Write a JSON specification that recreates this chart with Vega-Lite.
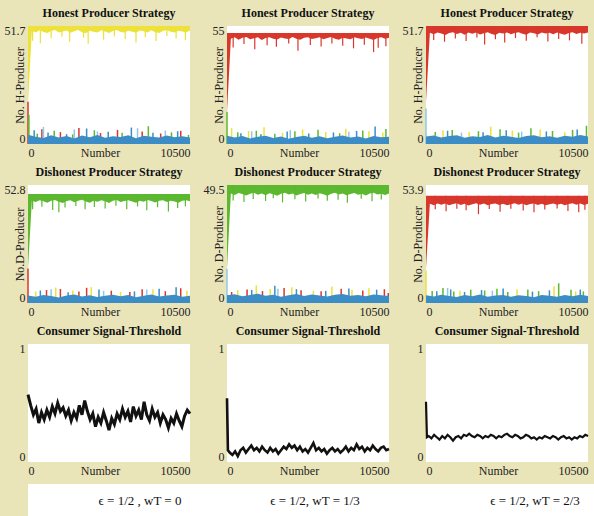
{
"$schema": "https://vega.github.io/schema/vega-lite/v6.json",
"background": "#EAE5B9",
"padding": {"left": 4, "top": 7, "right": 0, "bottom": 0},
"config": {
  "font": "Liberation Serif",
  "view": {"stroke": null, "fill": "white"},
  "title": {"font": "Liberation Serif", "fontSize": 12, "fontWeight": "bold", "color": "#111", "offset": 4, "anchor": "middle"},
  "axis": {"grid": false, "ticks": false, "domain": false, "labelFont": "Liberation Serif", "labelFontSize": 12, "labelColor": "#222", "titleFont": "Liberation Serif", "titleFontSize": 12, "titleFontWeight": "normal", "titleColor": "#222", "labelPadding": 3, "labelExpr": "'' + datum.value"},
  "axisX": {"labelFlush": true, "titleY": 3, "titleBaseline": "top", "titleX": 72},
  "axisY": {"labelFlush": true, "labelFlushOffset": 1, "titleX": -2, "titleBaseline": "bottom"}
},
"datasets": {
"p1t": [{"n":0,"v":18},{"n":250,"v":49.6},{"n":500,"v":48.9},{"n":750,"v":49.8},{"n":1000,"v":49.1},{"n":1250,"v":48.6},{"n":1500,"v":49.5},{"n":1750,"v":49.9},{"n":2000,"v":48.8},{"n":2250,"v":49.3},{"n":2500,"v":49.7},{"n":2750,"v":48.7},{"n":3000,"v":49.4},{"n":3250,"v":49.9},{"n":3500,"v":49.0},{"n":3750,"v":48.5},{"n":4000,"v":49.6},{"n":4250,"v":49.2},{"n":4500,"v":48.9},{"n":4750,"v":49.8},{"n":5000,"v":49.3},{"n":5250,"v":48.6},{"n":5500,"v":49.5},{"n":5750,"v":49.9},{"n":6000,"v":49.1},{"n":6250,"v":48.8},{"n":6500,"v":49.6},{"n":6750,"v":49.2},{"n":7000,"v":48.7},{"n":7250,"v":49.7},{"n":7500,"v":49.4},{"n":7750,"v":48.9},{"n":8000,"v":49.8},{"n":8250,"v":49.0},{"n":8500,"v":48.6},{"n":8750,"v":49.5},{"n":9000,"v":49.9},{"n":9250,"v":49.2},{"n":9500,"v":48.8},{"n":9750,"v":49.6},{"n":10000,"v":49.3},{"n":10250,"v":48.9},{"n":10500,"v":49.7}],
"p1ts": [{"n":300,"v":45.2},{"n":800,"v":44.1},{"n":1500,"v":46.3},{"n":2200,"v":47.0},{"n":2700,"v":44.8},{"n":3600,"v":46.5},{"n":3900,"v":43.9},{"n":4900,"v":45.7},{"n":5600,"v":47.2},{"n":6300,"v":46.0},{"n":7000,"v":44.5},{"n":7600,"v":46.8},{"n":8300,"v":45.1},{"n":9000,"v":47.3},{"n":9600,"v":46.2},{"n":10200,"v":45.5}],
"p1b": [{"n":0,"v":4},{"n":500,"v":3.2},{"n":1000,"v":2.6},{"n":1500,"v":3.8},{"n":2000,"v":2.9},{"n":2500,"v":3.5},{"n":3000,"v":2.4},{"n":3500,"v":3.7},{"n":4000,"v":3.0},{"n":4500,"v":3.9},{"n":5000,"v":2.7},{"n":5500,"v":3.4},{"n":6000,"v":3.1},{"n":6500,"v":3.8},{"n":7000,"v":2.5},{"n":7500,"v":3.6},{"n":8000,"v":3.2},{"n":8500,"v":2.8},{"n":9000,"v":3.7},{"n":9500,"v":3.0},{"n":10000,"v":3.4},{"n":10500,"v":2.8}],
"p1bs": [{"n":0,"v":18.5,"s":"r"},{"n":900,"v":6.5,"s":"r"},{"n":2100,"v":5.2,"s":"r"},{"n":3300,"v":7.0,"s":"r"},{"n":4700,"v":4.8,"s":"r"},{"n":5800,"v":6.2,"s":"r"},{"n":7400,"v":5.5,"s":"r"},{"n":8600,"v":4.6,"s":"r"},{"n":9900,"v":5.8,"s":"r"},
  {"n":60,"v":12.8,"s":"g"},{"n":600,"v":4.5,"s":"g"},{"n":1700,"v":5.8,"s":"g"},{"n":2900,"v":4.2,"s":"g"},{"n":4300,"v":6.0,"s":"g"},{"n":6100,"v":4.9,"s":"g"},{"n":7800,"v":7.8,"s":"g"},{"n":9300,"v":5.1,"s":"g"},{"n":10400,"v":4.0,"s":"g"},
  {"n":400,"v":6.0,"s":"b"},{"n":1300,"v":5.0,"s":"b"},{"n":2500,"v":4.3,"s":"b"},{"n":3800,"v":6.8,"s":"b"},{"n":5200,"v":5.4,"s":"b"},{"n":6700,"v":7.2,"s":"b"},{"n":8100,"v":4.9,"s":"b"},{"n":9700,"v":5.6,"s":"b"},
  {"n":1000,"v":7.5,"s":"l"},{"n":3000,"v":6.4,"s":"l"},{"n":4500,"v":5.5,"s":"l"},{"n":7100,"v":6.9,"s":"l"},{"n":8900,"v":5.9,"s":"l"}],
"p2t": [{"n":0,"v":15},{"n":250,"v":49.0},{"n":500,"v":49.8},{"n":750,"v":48.6},{"n":1000,"v":49.5},{"n":1250,"v":49.9},{"n":1500,"v":48.8},{"n":1750,"v":49.3},{"n":2000,"v":49.7},{"n":2250,"v":48.5},{"n":2500,"v":49.4},{"n":2750,"v":49.8},{"n":3000,"v":49.0},{"n":3250,"v":48.7},{"n":3500,"v":49.6},{"n":3750,"v":49.2},{"n":4000,"v":48.9},{"n":4250,"v":49.9},{"n":4500,"v":49.1},{"n":4750,"v":48.6},{"n":5000,"v":49.5},{"n":5250,"v":49.8},{"n":5500,"v":48.9},{"n":5750,"v":49.3},{"n":6000,"v":49.7},{"n":6250,"v":48.8},{"n":6500,"v":49.4},{"n":6750,"v":49.9},{"n":7000,"v":49.0},{"n":7250,"v":48.6},{"n":7500,"v":49.5},{"n":7750,"v":49.2},{"n":8000,"v":48.8},{"n":8250,"v":49.7},{"n":8500,"v":49.3},{"n":8750,"v":48.9},{"n":9000,"v":49.6},{"n":9250,"v":49.0},{"n":9500,"v":48.5},{"n":9750,"v":49.4},{"n":10000,"v":49.8},{"n":10250,"v":49.1},{"n":10500,"v":49.5}],
"p2ts": [{"n":400,"v":45.0},{"n":1100,"v":46.6},{"n":1800,"v":44.2},{"n":2600,"v":46.0},{"n":3200,"v":45.3},{"n":4000,"v":46.8},{"n":4600,"v":43.5},{"n":5400,"v":46.2},{"n":6100,"v":45.4},{"n":6800,"v":46.9},{"n":7500,"v":45.8},{"n":8200,"v":44.6},{"n":8900,"v":46.3},{"n":9500,"v":42.8},{"n":9800,"v":44.9},{"n":10300,"v":45.6}],
"p2b": [{"n":0,"v":3.8},{"n":500,"v":3.0},{"n":1000,"v":3.7},{"n":1500,"v":2.6},{"n":2000,"v":3.4},{"n":2500,"v":3.9},{"n":3000,"v":2.8},{"n":3500,"v":3.5},{"n":4000,"v":2.5},{"n":4500,"v":3.3},{"n":5000,"v":3.8},{"n":5500,"v":2.9},{"n":6000,"v":3.6},{"n":6500,"v":2.7},{"n":7000,"v":3.4},{"n":7500,"v":4.0},{"n":8000,"v":3.0},{"n":8500,"v":3.5},{"n":9000,"v":2.6},{"n":9500,"v":3.7},{"n":10000,"v":3.1},{"n":10500,"v":3.4}],
"p2bs": [{"n":0,"v":15,"s":"g"},{"n":700,"v":5.5,"s":"g"},{"n":1900,"v":6.2,"s":"g"},{"n":3100,"v":4.8,"s":"g"},{"n":4400,"v":5.9,"s":"g"},{"n":5900,"v":6.6,"s":"g"},{"n":7300,"v":5.0,"s":"g"},{"n":8800,"v":6.3,"s":"g"},{"n":10300,"v":7.0,"s":"g"},
  {"n":300,"v":7.4,"s":"y"},{"n":1400,"v":6.1,"s":"y"},{"n":2400,"v":7.8,"s":"y"},{"n":3600,"v":5.2,"s":"y"},{"n":4900,"v":6.8,"s":"y"},{"n":6400,"v":5.6,"s":"y"},{"n":7700,"v":7.1,"s":"y"},{"n":9200,"v":6.0,"s":"y"},{"n":10100,"v":5.4,"s":"y"},
  {"n":900,"v":5.0,"s":"b"},{"n":2200,"v":4.6,"s":"b"},{"n":3900,"v":5.8,"s":"b"},{"n":5300,"v":4.9,"s":"b"},{"n":6900,"v":5.4,"s":"b"},{"n":8400,"v":6.1,"s":"b"},{"n":9600,"v":8.2,"s":"b"},
  {"n":1600,"v":5.9,"s":"l"},{"n":4100,"v":6.5,"s":"l"},{"n":7900,"v":5.7,"s":"l"}],
"p3t": [{"n":0,"v":18.5},{"n":250,"v":48.7},{"n":500,"v":48.1},{"n":750,"v":48.9},{"n":1000,"v":48.4},{"n":1250,"v":47.8},{"n":1500,"v":48.6},{"n":1750,"v":49.0},{"n":2000,"v":48.2},{"n":2250,"v":48.7},{"n":2500,"v":47.9},{"n":2750,"v":48.8},{"n":3000,"v":48.3},{"n":3250,"v":48.9},{"n":3500,"v":48.0},{"n":3750,"v":48.5},{"n":4000,"v":49.0},{"n":4250,"v":48.2},{"n":4500,"v":47.8},{"n":4750,"v":48.7},{"n":5000,"v":48.4},{"n":5250,"v":48.9},{"n":5500,"v":48.1},{"n":5750,"v":48.6},{"n":6000,"v":49.0},{"n":6250,"v":48.3},{"n":6500,"v":47.9},{"n":6750,"v":48.8},{"n":7000,"v":48.5},{"n":7250,"v":48.0},{"n":7500,"v":48.9},{"n":7750,"v":48.4},{"n":8000,"v":48.7},{"n":8250,"v":48.1},{"n":8500,"v":48.8},{"n":8750,"v":48.3},{"n":9000,"v":47.9},{"n":9250,"v":48.6},{"n":9500,"v":49.0},{"n":9750,"v":48.2},{"n":10000,"v":48.7},{"n":10250,"v":48.4},{"n":10500,"v":48.8}],
"p3ts": [{"n":500,"v":45.6},{"n":1200,"v":44.8},{"n":1900,"v":46.2},{"n":2600,"v":45.1},{"n":3300,"v":46.7},{"n":3800,"v":43.6},{"n":4500,"v":45.9},{"n":5100,"v":44.5},{"n":5800,"v":46.4},{"n":6500,"v":45.2},{"n":7200,"v":46.8},{"n":7900,"v":44.9},{"n":8600,"v":46.0},{"n":9300,"v":45.4},{"n":10100,"v":43.9}],
"p3b": [{"n":0,"v":3.3},{"n":500,"v":3.7},{"n":1000,"v":2.9},{"n":1500,"v":3.5},{"n":2000,"v":3.8},{"n":2500,"v":2.7},{"n":3000,"v":3.4},{"n":3500,"v":3.1},{"n":4000,"v":3.9},{"n":4500,"v":2.8},{"n":5000,"v":3.6},{"n":5500,"v":3.2},{"n":6000,"v":2.6},{"n":6500,"v":3.5},{"n":7000,"v":3.8},{"n":7500,"v":3.0},{"n":8000,"v":3.4},{"n":8500,"v":2.7},{"n":9000,"v":3.6},{"n":9500,"v":3.2},{"n":10000,"v":3.9},{"n":10500,"v":3.3}],
"p3bs": [{"n":0,"v":15.5,"s":"l"},{"n":2300,"v":5.0,"s":"l"},{"n":6200,"v":5.4,"s":"l"},
  {"n":1100,"v":6.0,"s":"y"},{"n":2800,"v":5.4,"s":"y"},{"n":4200,"v":7.6,"s":"y"},{"n":5600,"v":5.9,"s":"y"},{"n":7400,"v":6.3,"s":"y"},{"n":9000,"v":5.2,"s":"y"},
  {"n":600,"v":5.3,"s":"g"},{"n":1700,"v":6.1,"s":"g"},{"n":3400,"v":5.6,"s":"g"},{"n":4800,"v":6.5,"s":"g"},{"n":6000,"v":5.0,"s":"g"},{"n":6800,"v":6.9,"s":"g"},{"n":8200,"v":5.7,"s":"g"},{"n":9500,"v":6.2,"s":"g"},{"n":10400,"v":8.0,"s":"g"},
  {"n":1400,"v":5.8,"s":"b"},{"n":3700,"v":5.1,"s":"b"},{"n":5200,"v":6.0,"s":"b"},{"n":7800,"v":5.5,"s":"b"},{"n":9800,"v":6.4,"s":"b"}],
"p4t": [{"n":0,"v":15.4},{"n":250,"v":45.8},{"n":500,"v":45.2},{"n":750,"v":46.0},{"n":1000,"v":45.5},{"n":1250,"v":44.9},{"n":1500,"v":45.7},{"n":1750,"v":46.1},{"n":2000,"v":45.3},{"n":2250,"v":44.8},{"n":2500,"v":45.6},{"n":2750,"v":46.0},{"n":3000,"v":45.1},{"n":3250,"v":45.7},{"n":3500,"v":46.2},{"n":3750,"v":45.4},{"n":4000,"v":44.9},{"n":4250,"v":45.8},{"n":4500,"v":45.3},{"n":4750,"v":46.0},{"n":5000,"v":45.5},{"n":5250,"v":44.8},{"n":5500,"v":45.7},{"n":5750,"v":46.1},{"n":6000,"v":45.2},{"n":6250,"v":45.6},{"n":6500,"v":46.0},{"n":6750,"v":45.4},{"n":7000,"v":44.9},{"n":7250,"v":45.8},{"n":7500,"v":45.3},{"n":7750,"v":46.1},{"n":8000,"v":45.6},{"n":8250,"v":45.0},{"n":8500,"v":45.7},{"n":8750,"v":46.0},{"n":9000,"v":45.2},{"n":9250,"v":45.8},{"n":9500,"v":45.4},{"n":9750,"v":44.9},{"n":10000,"v":45.7},{"n":10250,"v":46.0},{"n":10500,"v":45.5}],
"p4ts": [{"n":300,"v":42.0},{"n":900,"v":43.1},{"n":1600,"v":41.6},{"n":2000,"v":40.6},{"n":2400,"v":42.7},{"n":3100,"v":43.4},{"n":3700,"v":41.9},{"n":4300,"v":43.0},{"n":5000,"v":42.3},{"n":5700,"v":43.5},{"n":6400,"v":42.0},{"n":7100,"v":43.2},{"n":7700,"v":41.5},{"n":8400,"v":42.8},{"n":9100,"v":40.9},{"n":9700,"v":42.5},{"n":10200,"v":43.3}],
"p4b": [{"n":0,"v":3.4},{"n":500,"v":2.8},{"n":1000,"v":3.6},{"n":1500,"v":3.1},{"n":2000,"v":2.5},{"n":2500,"v":3.4},{"n":3000,"v":3.8},{"n":3500,"v":2.9},{"n":4000,"v":3.5},{"n":4500,"v":2.7},{"n":5000,"v":3.3},{"n":5500,"v":3.7},{"n":6000,"v":3.0},{"n":6500,"v":3.6},{"n":7000,"v":2.6},{"n":7500,"v":3.2},{"n":8000,"v":3.8},{"n":8500,"v":2.9},{"n":9000,"v":3.4},{"n":9500,"v":3.7},{"n":10000,"v":2.8},{"n":10500,"v":3.3}],
"p4bs": [{"n":0,"v":15.4,"s":"r"},{"n":1200,"v":5.8,"s":"r"},{"n":2100,"v":6.3,"s":"r"},{"n":3300,"v":5.1,"s":"r"},{"n":3800,"v":6.8,"s":"r"},{"n":5400,"v":5.5,"s":"r"},{"n":6600,"v":4.9,"s":"r"},{"n":7400,"v":6.1,"s":"r"},{"n":8900,"v":5.3,"s":"r"},{"n":9900,"v":6.6,"s":"r"},
  {"n":500,"v":5.2,"s":"y"},{"n":1800,"v":6.9,"s":"y"},{"n":2900,"v":5.6,"s":"y"},{"n":4100,"v":7.1,"s":"y"},{"n":6000,"v":5.0,"s":"y"},{"n":8100,"v":6.2,"s":"y"},{"n":10300,"v":5.5,"s":"y"},
  {"n":800,"v":5.6,"s":"b"},{"n":2600,"v":4.8,"s":"b"},{"n":4600,"v":6.0,"s":"b"},{"n":6900,"v":5.2,"s":"b"},{"n":8500,"v":6.4,"s":"b"},{"n":9600,"v":7.0,"s":"b"},
  {"n":1500,"v":6.2,"s":"l"},{"n":4900,"v":5.4,"s":"l"},{"n":7700,"v":6.0,"s":"l"}],
"p5t": [{"n":0,"v":14.4},{"n":250,"v":45.9},{"n":500,"v":45.3},{"n":750,"v":46.1},{"n":1000,"v":45.7},{"n":1250,"v":45.1},{"n":1500,"v":45.8},{"n":1750,"v":46.2},{"n":2000,"v":45.4},{"n":2250,"v":45.9},{"n":2500,"v":45.2},{"n":2750,"v":46.0},{"n":3000,"v":45.6},{"n":3250,"v":45.0},{"n":3500,"v":45.8},{"n":3750,"v":46.2},{"n":4000,"v":45.5},{"n":4250,"v":45.9},{"n":4500,"v":45.1},{"n":4750,"v":45.7},{"n":5000,"v":46.1},{"n":5250,"v":45.4},{"n":5500,"v":45.9},{"n":5750,"v":45.3},{"n":6000,"v":46.0},{"n":6250,"v":45.6},{"n":6500,"v":45.0},{"n":6750,"v":45.8},{"n":7000,"v":46.2},{"n":7250,"v":45.5},{"n":7500,"v":45.9},{"n":7750,"v":45.2},{"n":8000,"v":45.7},{"n":8250,"v":46.1},{"n":8500,"v":45.4},{"n":8750,"v":45.8},{"n":9000,"v":45.1},{"n":9250,"v":45.9},{"n":9500,"v":46.2},{"n":9750,"v":45.5},{"n":10000,"v":45.8},{"n":10250,"v":45.3},{"n":10500,"v":45.9}],
"p5ts": [{"n":400,"v":43.0},{"n":1100,"v":42.4},{"n":1700,"v":43.6},{"n":2500,"v":42.8},{"n":3000,"v":43.9},{"n":3600,"v":42.2},{"n":4400,"v":43.5},{"n":5100,"v":42.6},{"n":5900,"v":43.8},{"n":6500,"v":42.9},{"n":7200,"v":43.3},{"n":7800,"v":42.1},{"n":8700,"v":43.7},{"n":9400,"v":42.7},{"n":10000,"v":43.4}],
"p5b": [{"n":0,"v":3.2},{"n":500,"v":3.7},{"n":1000,"v":2.8},{"n":1500,"v":3.4},{"n":2000,"v":3.9},{"n":2500,"v":3.0},{"n":3000,"v":3.5},{"n":3500,"v":2.6},{"n":4000,"v":3.3},{"n":4500,"v":3.8},{"n":5000,"v":2.9},{"n":5500,"v":3.6},{"n":6000,"v":3.1},{"n":6500,"v":2.7},{"n":7000,"v":3.5},{"n":7500,"v":3.8},{"n":8000,"v":3.0},{"n":8500,"v":3.4},{"n":9000,"v":2.8},{"n":9500,"v":3.6},{"n":10000,"v":3.2},{"n":10500,"v":2.9}],
"p5bs": [{"n":0,"v":14.4,"s":"l"},{"n":3300,"v":6.0,"s":"l"},
  {"n":700,"v":5.3,"s":"y"},{"n":1900,"v":7.4,"s":"y"},{"n":2800,"v":5.9,"s":"y"},{"n":4200,"v":6.6,"s":"y"},{"n":5600,"v":5.1,"s":"y"},{"n":6800,"v":6.9,"s":"y"},{"n":8100,"v":5.6,"s":"y"},{"n":9200,"v":6.2,"s":"y"},
  {"n":300,"v":4.6,"s":"r"},{"n":1300,"v":5.7,"s":"r"},{"n":2300,"v":5.0,"s":"r"},{"n":3700,"v":6.3,"s":"r"},{"n":4800,"v":5.4,"s":"r"},{"n":6100,"v":4.9,"s":"r"},{"n":7400,"v":6.0,"s":"r"},{"n":8800,"v":5.2,"s":"r"},{"n":10200,"v":5.8,"s":"r"},{"n":10450,"v":4.2,"s":"r"},
  {"n":1600,"v":5.5,"s":"b"},{"n":3100,"v":7.2,"s":"b"},{"n":4500,"v":5.8,"s":"b"},{"n":6400,"v":5.1,"s":"b"},{"n":7900,"v":6.1,"s":"b"},{"n":9700,"v":5.6,"s":"b"}],
"p6t": [{"n":0,"v":16},{"n":250,"v":45.3},{"n":500,"v":44.7},{"n":750,"v":45.5},{"n":1000,"v":44.9},{"n":1250,"v":45.4},{"n":1500,"v":44.6},{"n":1750,"v":45.2},{"n":2000,"v":45.6},{"n":2250,"v":44.8},{"n":2500,"v":45.3},{"n":2750,"v":44.5},{"n":3000,"v":45.1},{"n":3250,"v":45.6},{"n":3500,"v":44.9},{"n":3750,"v":45.4},{"n":4000,"v":44.7},{"n":4250,"v":45.2},{"n":4500,"v":45.5},{"n":4750,"v":44.8},{"n":5000,"v":45.3},{"n":5250,"v":44.6},{"n":5500,"v":45.1},{"n":5750,"v":45.6},{"n":6000,"v":44.9},{"n":6250,"v":45.4},{"n":6500,"v":44.7},{"n":6750,"v":45.2},{"n":7000,"v":45.5},{"n":7250,"v":44.8},{"n":7500,"v":45.3},{"n":7750,"v":44.6},{"n":8000,"v":45.1},{"n":8250,"v":45.5},{"n":8500,"v":44.9},{"n":8750,"v":45.3},{"n":9000,"v":44.7},{"n":9250,"v":45.2},{"n":9500,"v":45.6},{"n":9750,"v":44.9},{"n":10000,"v":45.4},{"n":10250,"v":44.8},{"n":10500,"v":45.3}],
"p6ts": [{"n":600,"v":42.8},{"n":1300,"v":41.9},{"n":2000,"v":43.1},{"n":2600,"v":42.4},{"n":3400,"v":40.6},{"n":4100,"v":42.9},{"n":4800,"v":41.7},{"n":5500,"v":43.0},{"n":6300,"v":42.2},{"n":7000,"v":41.5},{"n":7700,"v":42.7},{"n":8500,"v":43.2},{"n":9200,"v":42.0},{"n":9900,"v":41.4},{"n":10300,"v":42.6}],
"p6b": [{"n":0,"v":3.5},{"n":500,"v":3.0},{"n":1000,"v":3.8},{"n":1500,"v":3.2},{"n":2000,"v":2.7},{"n":2500,"v":3.6},{"n":3000,"v":3.1},{"n":3500,"v":3.9},{"n":4000,"v":2.8},{"n":4500,"v":3.4},{"n":5000,"v":3.7},{"n":5500,"v":2.9},{"n":6000,"v":3.5},{"n":6500,"v":3.2},{"n":7000,"v":2.6},{"n":7500,"v":3.7},{"n":8000,"v":3.3},{"n":8500,"v":2.8},{"n":9000,"v":3.6},{"n":9500,"v":3.1},{"n":10000,"v":3.8},{"n":10500,"v":3.2}],
"p6bs": [{"n":0,"v":14.8,"s":"y"},{"n":2200,"v":5.6,"s":"y"},{"n":5900,"v":6.3,"s":"y"},{"n":8300,"v":7.6,"s":"y"},{"n":9700,"v":5.4,"s":"y"},
  {"n":400,"v":5.5,"s":"g"},{"n":1100,"v":6.8,"s":"g"},{"n":1800,"v":5.2,"s":"g"},{"n":2900,"v":6.1,"s":"g"},{"n":3800,"v":5.7,"s":"g"},{"n":4600,"v":6.5,"s":"g"},{"n":5300,"v":5.0,"s":"g"},{"n":6600,"v":6.2,"s":"g"},{"n":7300,"v":5.4,"s":"g"},{"n":8600,"v":9.0,"s":"g"},{"n":9400,"v":6.0,"s":"g"},{"n":10200,"v":5.3,"s":"g"},
  {"n":700,"v":5.4,"s":"b"},{"n":1600,"v":6.2,"s":"b"},{"n":2500,"v":5.0,"s":"b"},{"n":3600,"v":5.9,"s":"b"},{"n":5000,"v":6.6,"s":"b"},{"n":6900,"v":5.2,"s":"b"},{"n":8000,"v":5.8,"s":"b"},{"n":10000,"v":6.1,"s":"b"},
  {"n":1400,"v":6.9,"s":"l"},{"n":4300,"v":5.6,"s":"l"}],
"c1": [{"n":0,"v":0.57},{"n":175,"v":0.48},{"n":350,"v":0.40},{"n":525,"v":0.45},{"n":700,"v":0.33},{"n":875,"v":0.42},{"n":1050,"v":0.36},{"n":1225,"v":0.44},{"n":1400,"v":0.38},{"n":1575,"v":0.47},{"n":1750,"v":0.41},{"n":1925,"v":0.50},{"n":2100,"v":0.43},{"n":2275,"v":0.46},{"n":2450,"v":0.39},{"n":2625,"v":0.44},{"n":2800,"v":0.35},{"n":2975,"v":0.42},{"n":3150,"v":0.37},{"n":3325,"v":0.48},{"n":3500,"v":0.40},{"n":3675,"v":0.52},{"n":3850,"v":0.43},{"n":4025,"v":0.36},{"n":4200,"v":0.41},{"n":4375,"v":0.30},{"n":4550,"v":0.38},{"n":4725,"v":0.33},{"n":4900,"v":0.42},{"n":5075,"v":0.35},{"n":5250,"v":0.27},{"n":5425,"v":0.37},{"n":5600,"v":0.32},{"n":5775,"v":0.41},{"n":5950,"v":0.36},{"n":6125,"v":0.45},{"n":6300,"v":0.38},{"n":6475,"v":0.43},{"n":6650,"v":0.34},{"n":6825,"v":0.47},{"n":7000,"v":0.39},{"n":7175,"v":0.44},{"n":7350,"v":0.36},{"n":7525,"v":0.51},{"n":7700,"v":0.40},{"n":7875,"v":0.35},{"n":8050,"v":0.45},{"n":8225,"v":0.38},{"n":8400,"v":0.42},{"n":8575,"v":0.33},{"n":8750,"v":0.40},{"n":8925,"v":0.36},{"n":9100,"v":0.29},{"n":9275,"v":0.37},{"n":9450,"v":0.33},{"n":9625,"v":0.41},{"n":9800,"v":0.35},{"n":9975,"v":0.30},{"n":10150,"v":0.39},{"n":10325,"v":0.44},{"n":10500,"v":0.41}],
"c2": [{"n":0,"v":0.54},{"n":60,"v":0.10},{"n":175,"v":0.08},{"n":350,"v":0.06},{"n":525,"v":0.09},{"n":700,"v":0.05},{"n":875,"v":0.10},{"n":1050,"v":0.12},{"n":1225,"v":0.08},{"n":1400,"v":0.11},{"n":1575,"v":0.14},{"n":1750,"v":0.10},{"n":1925,"v":0.12},{"n":2100,"v":0.09},{"n":2275,"v":0.13},{"n":2450,"v":0.10},{"n":2625,"v":0.08},{"n":2800,"v":0.12},{"n":2975,"v":0.09},{"n":3150,"v":0.11},{"n":3325,"v":0.07},{"n":3500,"v":0.10},{"n":3675,"v":0.13},{"n":3850,"v":0.11},{"n":4025,"v":0.15},{"n":4200,"v":0.12},{"n":4375,"v":0.14},{"n":4550,"v":0.10},{"n":4725,"v":0.13},{"n":4900,"v":0.09},{"n":5075,"v":0.11},{"n":5250,"v":0.08},{"n":5425,"v":0.12},{"n":5600,"v":0.16},{"n":5775,"v":0.10},{"n":5950,"v":0.12},{"n":6125,"v":0.09},{"n":6300,"v":0.11},{"n":6475,"v":0.07},{"n":6650,"v":0.10},{"n":6825,"v":0.12},{"n":7000,"v":0.09},{"n":7175,"v":0.11},{"n":7350,"v":0.08},{"n":7525,"v":0.10},{"n":7700,"v":0.13},{"n":7875,"v":0.09},{"n":8050,"v":0.12},{"n":8225,"v":0.10},{"n":8400,"v":0.15},{"n":8575,"v":0.11},{"n":8750,"v":0.13},{"n":8925,"v":0.09},{"n":9100,"v":0.12},{"n":9275,"v":0.10},{"n":9450,"v":0.14},{"n":9625,"v":0.11},{"n":9800,"v":0.09},{"n":9975,"v":0.12},{"n":10150,"v":0.13},{"n":10325,"v":0.10},{"n":10500,"v":0.11}],
"c3": [{"n":0,"v":0.51},{"n":60,"v":0.21},{"n":175,"v":0.22},{"n":350,"v":0.20},{"n":525,"v":0.23},{"n":700,"v":0.21},{"n":875,"v":0.19},{"n":1050,"v":0.22},{"n":1225,"v":0.20},{"n":1400,"v":0.23},{"n":1575,"v":0.21},{"n":1750,"v":0.18},{"n":1925,"v":0.21},{"n":2100,"v":0.22},{"n":2275,"v":0.20},{"n":2450,"v":0.23},{"n":2625,"v":0.22},{"n":2800,"v":0.24},{"n":2975,"v":0.22},{"n":3150,"v":0.21},{"n":3325,"v":0.23},{"n":3500,"v":0.22},{"n":3675,"v":0.20},{"n":3850,"v":0.22},{"n":4025,"v":0.21},{"n":4200,"v":0.23},{"n":4375,"v":0.22},{"n":4550,"v":0.20},{"n":4725,"v":0.22},{"n":4900,"v":0.21},{"n":5075,"v":0.23},{"n":5250,"v":0.24},{"n":5425,"v":0.22},{"n":5600,"v":0.21},{"n":5775,"v":0.23},{"n":5950,"v":0.22},{"n":6125,"v":0.20},{"n":6300,"v":0.21},{"n":6475,"v":0.23},{"n":6650,"v":0.22},{"n":6825,"v":0.20},{"n":7000,"v":0.21},{"n":7175,"v":0.19},{"n":7350,"v":0.21},{"n":7525,"v":0.20},{"n":7700,"v":0.22},{"n":7875,"v":0.21},{"n":8050,"v":0.20},{"n":8225,"v":0.22},{"n":8400,"v":0.21},{"n":8575,"v":0.19},{"n":8750,"v":0.21},{"n":8925,"v":0.22},{"n":9100,"v":0.20},{"n":9275,"v":0.21},{"n":9450,"v":0.19},{"n":9625,"v":0.21},{"n":9800,"v":0.20},{"n":9975,"v":0.22},{"n":10150,"v":0.21},{"n":10325,"v":0.23},{"n":10500,"v":0.22}]
},
"spacing": 8,
"vconcat": [
  {"hconcat": [
   {"width": 162, "height": 118, "title": "Honest Producer Strategy",
    "encoding": {"x": {"field": "n", "type": "quantitative", "scale": {"domain": [0, 10500]}, "axis": {"values": [0, 10500], "title": "Number"}},
                 "y": {"field": "v", "type": "quantitative", "scale": {"domain": [0, 51.7]}, "axis": {"values": [0, 51.7], "title": "No. H-Producer"}}},
    "layer": [
     {"data": {"name": "p1t"}, "mark": {"type": "area", "color": "#ECE23A"}, "encoding": {"y2": {"datum": 51.7}}},
     {"data": {"name": "p1ts"}, "mark": {"type": "rule", "color": "#ECE23A", "strokeWidth": 1.2}, "encoding": {"y2": {"datum": 51.7}}},
     {"data": {"name": "p1bs"}, "mark": {"type": "rule", "strokeWidth": 1.5}, "encoding": {"y2": {"datum": 0}, "color": {"field": "s", "type": "nominal", "scale": {"domain": ["r","g","y","b","l"], "range": ["#D8372B","#5CB82E","#ECE23A","#3C8DC5","#8EC8EE"]}, "legend": null}}},
     {"data": {"name": "p1b"}, "mark": {"type": "area", "color": "#3C8DC5"}, "encoding": {}}
    ]},
   {"width": 162, "height": 118, "title": "Honest Producer Strategy",
    "encoding": {"x": {"field": "n", "type": "quantitative", "scale": {"domain": [0, 10500]}, "axis": {"values": [0, 10500], "title": "Number"}},
                 "y": {"field": "v", "type": "quantitative", "scale": {"domain": [0, 55]}, "axis": {"values": [0, 55], "title": "No. H-Producer"}}},
    "layer": [
     {"data": {"name": "p2t"}, "mark": {"type": "area", "color": "#D8372B"}, "encoding": {"y2": {"datum": 51.7}}},
     {"data": {"name": "p2ts"}, "mark": {"type": "rule", "color": "#D8372B", "strokeWidth": 1.2}, "encoding": {"y2": {"datum": 51.7}}},
     {"data": {"name": "p2bs"}, "mark": {"type": "rule", "strokeWidth": 1.5}, "encoding": {"y2": {"datum": 0}, "color": {"field": "s", "type": "nominal", "scale": {"domain": ["r","g","y","b","l"], "range": ["#D8372B","#5CB82E","#ECE23A","#3C8DC5","#8EC8EE"]}, "legend": null}}},
     {"data": {"name": "p2b"}, "mark": {"type": "area", "color": "#3C8DC5"}, "encoding": {}}
    ]},
   {"width": 162, "height": 118, "title": "Honest Producer Strategy",
    "encoding": {"x": {"field": "n", "type": "quantitative", "scale": {"domain": [0, 10500]}, "axis": {"values": [0, 10500], "title": "Number"}},
                 "y": {"field": "v", "type": "quantitative", "scale": {"domain": [0, 51.7]}, "axis": {"values": [0, 51.7], "title": "No. H-Producer"}}},
    "layer": [
     {"data": {"name": "p3t"}, "mark": {"type": "area", "color": "#D8372B"}, "encoding": {"y2": {"datum": 51.7}}},
     {"data": {"name": "p3ts"}, "mark": {"type": "rule", "color": "#D8372B", "strokeWidth": 1.2}, "encoding": {"y2": {"datum": 51.7}}},
     {"data": {"name": "p3bs"}, "mark": {"type": "rule", "strokeWidth": 1.5}, "encoding": {"y2": {"datum": 0}, "color": {"field": "s", "type": "nominal", "scale": {"domain": ["r","g","y","b","l"], "range": ["#D8372B","#5CB82E","#ECE23A","#3C8DC5","#8EC8EE"]}, "legend": null}}},
     {"data": {"name": "p3b"}, "mark": {"type": "area", "color": "#3C8DC5"}, "encoding": {}}
    ]}
  ], "spacing": 37, "bounds": "flush"},
  {"hconcat": [
   {"width": 162, "height": 118, "title": "Dishonest Producer Strategy",
    "encoding": {"x": {"field": "n", "type": "quantitative", "scale": {"domain": [0, 10500]}, "axis": {"values": [0, 10500], "title": "Number"}},
                 "y": {"field": "v", "type": "quantitative", "scale": {"domain": [0, 52.8]}, "axis": {"values": [0, 52.8], "title": "No.D-Producer"}}},
    "layer": [
     {"data": {"name": "p4t"}, "mark": {"type": "area", "color": "#5CB82E"}, "encoding": {"y2": {"datum": 48.8}}},
     {"data": {"name": "p4ts"}, "mark": {"type": "rule", "color": "#5CB82E", "strokeWidth": 1.2}, "encoding": {"y2": {"datum": 48.8}}},
     {"data": {"name": "p4bs"}, "mark": {"type": "rule", "strokeWidth": 1.5}, "encoding": {"y2": {"datum": 0}, "color": {"field": "s", "type": "nominal", "scale": {"domain": ["r","g","y","b","l"], "range": ["#D8372B","#5CB82E","#ECE23A","#3C8DC5","#8EC8EE"]}, "legend": null}}},
     {"data": {"name": "p4b"}, "mark": {"type": "area", "color": "#3C8DC5"}, "encoding": {}}
    ]},
   {"width": 162, "height": 118, "title": "Dishonest Producer Strategy",
    "encoding": {"x": {"field": "n", "type": "quantitative", "scale": {"domain": [0, 10500]}, "axis": {"values": [0, 10500], "title": "Number"}},
                 "y": {"field": "v", "type": "quantitative", "scale": {"domain": [0, 49.5]}, "axis": {"values": [0, 49.5], "title": "No. D-Producer"}}},
    "layer": [
     {"data": {"name": "p5t"}, "mark": {"type": "area", "color": "#5CB82E"}, "encoding": {"y2": {"datum": 49.5}}},
     {"data": {"name": "p5ts"}, "mark": {"type": "rule", "color": "#5CB82E", "strokeWidth": 1.2}, "encoding": {"y2": {"datum": 49.5}}},
     {"data": {"name": "p5bs"}, "mark": {"type": "rule", "strokeWidth": 1.5}, "encoding": {"y2": {"datum": 0}, "color": {"field": "s", "type": "nominal", "scale": {"domain": ["r","g","y","b","l"], "range": ["#D8372B","#5CB82E","#ECE23A","#3C8DC5","#8EC8EE"]}, "legend": null}}},
     {"data": {"name": "p5b"}, "mark": {"type": "area", "color": "#3C8DC5"}, "encoding": {}}
    ]},
   {"width": 162, "height": 118, "title": "Dishonest Producer Strategy",
    "encoding": {"x": {"field": "n", "type": "quantitative", "scale": {"domain": [0, 10500]}, "axis": {"values": [0, 10500], "title": "Number"}},
                 "y": {"field": "v", "type": "quantitative", "scale": {"domain": [0, 53.9]}, "axis": {"values": [0, 53.9], "title": "No. D-Producer"}}},
    "layer": [
     {"data": {"name": "p6t"}, "mark": {"type": "area", "color": "#D8372B"}, "encoding": {"y2": {"datum": 49.0}}},
     {"data": {"name": "p6ts"}, "mark": {"type": "rule", "color": "#D8372B", "strokeWidth": 1.2}, "encoding": {"y2": {"datum": 49.0}}},
     {"data": {"name": "p6bs"}, "mark": {"type": "rule", "strokeWidth": 1.5}, "encoding": {"y2": {"datum": 0}, "color": {"field": "s", "type": "nominal", "scale": {"domain": ["r","g","y","b","l"], "range": ["#D8372B","#5CB82E","#ECE23A","#3C8DC5","#8EC8EE"]}, "legend": null}}},
     {"data": {"name": "p6b"}, "mark": {"type": "area", "color": "#3C8DC5"}, "encoding": {}}
    ]}
  ], "spacing": 37, "bounds": "flush"},
  {"hconcat": [
   {"width": 162, "height": 118, "title": "Consumer Signal-Threshold", "data": {"name": "c1"},
    "mark": {"type": "line", "color": "#111", "strokeWidth": 3},
    "encoding": {"x": {"field": "n", "type": "quantitative", "scale": {"domain": [0, 10500]}, "axis": {"values": [0, 10500], "title": "Number"}},
                 "y": {"field": "v", "type": "quantitative", "scale": {"domain": [0, 1]}, "axis": {"values": [0, 1], "title": null}}}},
   {"width": 162, "height": 118, "title": "Consumer Signal-Threshold", "data": {"name": "c2"},
    "mark": {"type": "line", "color": "#111", "strokeWidth": 2.6},
    "encoding": {"x": {"field": "n", "type": "quantitative", "scale": {"domain": [0, 10500]}, "axis": {"values": [0, 10500], "title": "Number"}},
                 "y": {"field": "v", "type": "quantitative", "scale": {"domain": [0, 1]}, "axis": {"values": [0, 1], "title": null}}}},
   {"width": 162, "height": 118, "title": "Consumer Signal-Threshold", "data": {"name": "c3"},
    "mark": {"type": "line", "color": "#111", "strokeWidth": 2.2},
    "encoding": {"x": {"field": "n", "type": "quantitative", "scale": {"domain": [0, 10500]}, "axis": {"values": [0, 10500], "title": "Number"}},
                 "y": {"field": "v", "type": "quantitative", "scale": {"domain": [0, 1]}, "axis": {"values": [0, 1], "title": null}}}}
  ], "spacing": 37, "bounds": "flush"},
 {"width": 590, "height": 33,
  "data": {"values": [{"col": 1, "cap": "ϵ = 1/2 , wT = 0"}, {"col": 2, "cap": "ϵ = 1/2, wT = 1/3"}, {"col": 3, "cap": "ϵ = 1/2, wT = 2/3"}]},
  "mark": {"type": "text", "font": "Liberation Serif", "fontSize": 13, "color": "#111"},
  "encoding": {"x": {"field": "col", "type": "quantitative", "scale": {"domain": [1, 2, 3], "range": [112, 287, 507]}, "axis": null},
               "text": {"field": "cap", "type": "nominal"}}}
]
}
